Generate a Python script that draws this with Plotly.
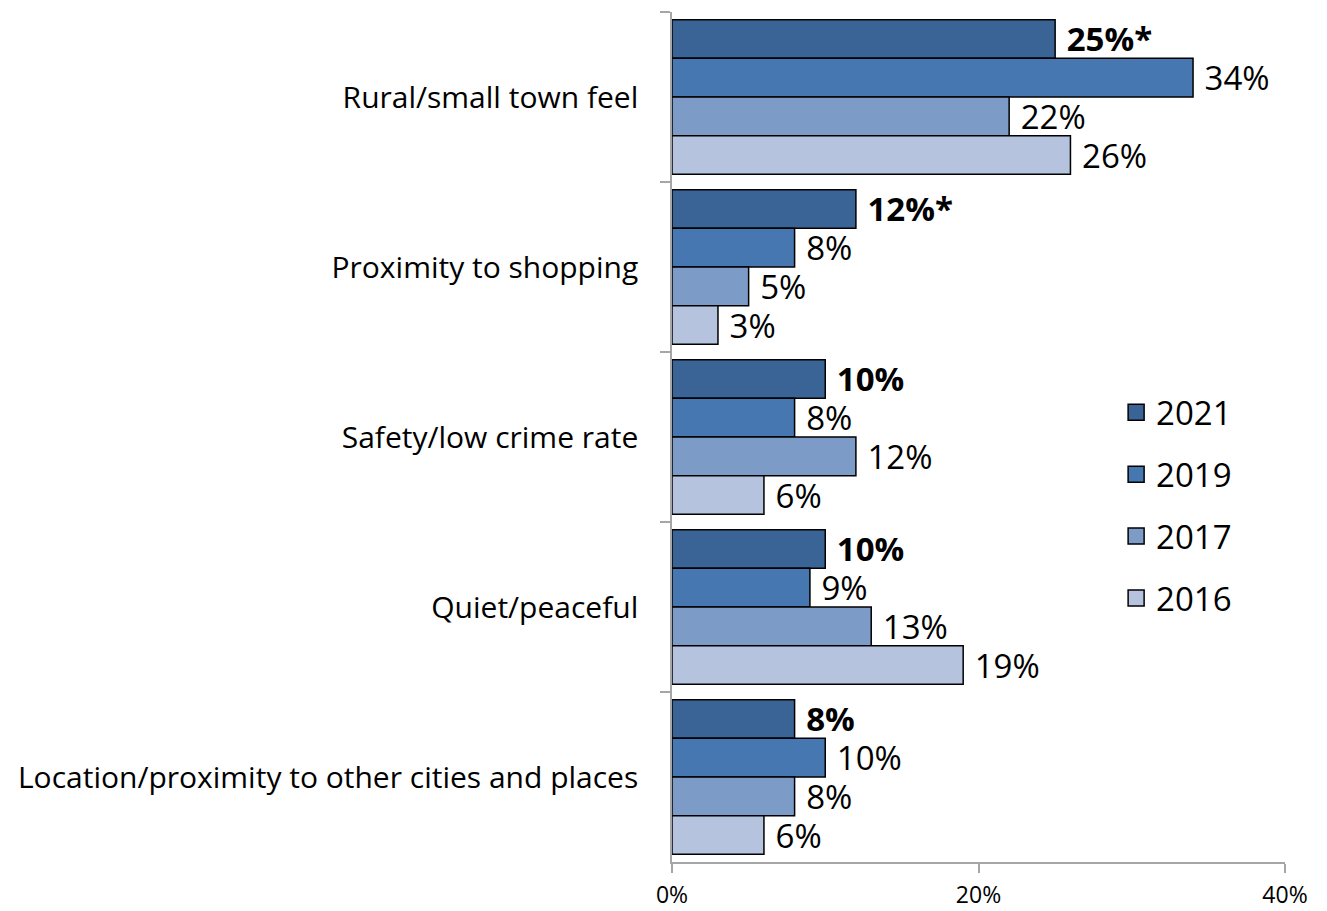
import plotly.graph_objects as go

categories = ["Rural/small town feel", "Proximity to shopping", "Safety/low crime rate",
              "Quiet/peaceful", "Location/proximity to other cities and places"]
years = ["2021", "2019", "2017", "2016"]
v2021 = [25, 12, 10, 10, 8]
v2019 = [34, 8, 8, 9, 10]
v2017 = [22, 5, 12, 13, 8]
v2016 = [26, 3, 6, 19, 6]
labels2021 = ["25%*", "12%*", "10%", "10%", "8%"]
colors = ["#3B6496", "#4677B0", "#7D9BC7", "#B5C3DE"]
xticks = [0, 20, 40]
xticklabels = ["0%", "20%", "40%"]

series = [v2021, v2019, v2017, v2016]
FONT = "Open Sans"

fig = go.Figure()
for i, (yr, vals, col) in enumerate(zip(years, series, colors)):
    if i == 0:
        txt = [" <b>%s</b>" % t for t in labels2021]
    else:
        txt = [" %d%%" % v for v in vals]
    fig.add_trace(go.Bar(
        y=categories, x=vals, name=yr, orientation="h",
        marker=dict(color=col, line=dict(color="black", width=1.5)),
        text=txt, textposition="outside", textfont=dict(size=33, color="black", family=FONT),
        cliponaxis=False, constraintext="none", showlegend=False,
    ))

# legend entries (square swatches)
for yr, col in zip(years, colors):
    fig.add_trace(go.Scatter(
        x=[None], y=[None], mode="markers", name=yr, legendgroup=yr,
        marker=dict(symbol="square", size=16, color=col, line=dict(color="black", width=1.5)),
    ))

fig.update_layout(
    width=1319, height=903,
    margin=dict(l=664, r=42, t=4, b=49),
    paper_bgcolor="white", plot_bgcolor="white",
    barmode="group", bargap=0.09, bargroupgap=0,
    font=dict(family=FONT, color="black"),
    showlegend=True,
    legend=dict(x=0.7245, y=0.562, xanchor="left", yanchor="top",
                font=dict(size=33, family=FONT, color="black"),
                traceorder="grouped", tracegroupgap=16, itemwidth=30,
                bgcolor="rgba(0,0,0,0)"),
    xaxis=dict(range=[0, 40], tickvals=xticks, ticktext=xticklabels, automargin=False,
               showgrid=False, zeroline=False, showline=True, linecolor="#A6A6A6", linewidth=1.5,
               ticks="outside", ticklen=9, tickcolor="#A6A6A6", tickwidth=1.5,
               tickfont=dict(size=23, family=FONT, color="black"), ticklabelstandoff=3),
    yaxis=dict(autorange="reversed", showgrid=False, zeroline=False, automargin=False,
               showline=True, linecolor="#A6A6A6", linewidth=1.5,
               ticks="outside", ticklen=10, tickcolor="#A6A6A6", tickwidth=1.5,
               tickson="boundaries", ticklabelstandoff=26,
               tickfont=dict(size=30, family=FONT, color="black")),
)

fig.write_html("out.html")
